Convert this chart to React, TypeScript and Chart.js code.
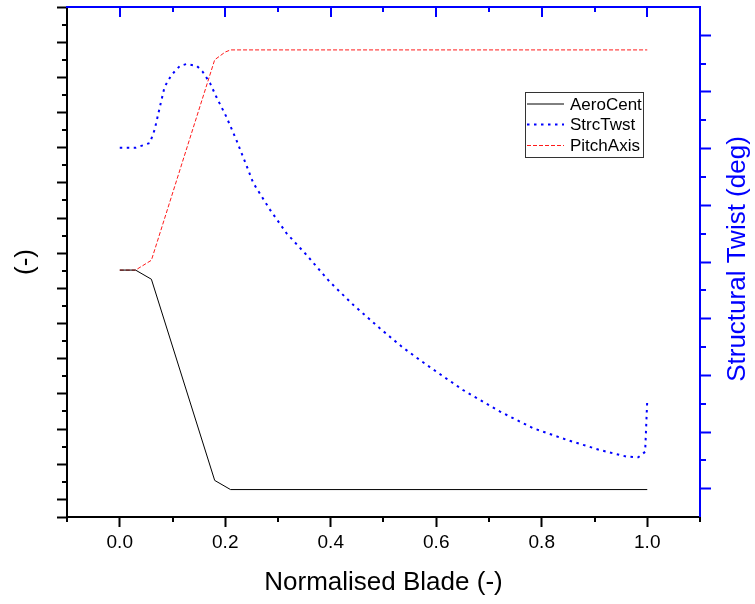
import React, { useEffect, useRef } from 'react';
import { Chart, registerables } from 'chart.js';

Chart.register(...registerables);

// ---- data ----
const seriesNames = ['AeroCent', 'StrcTwst', 'PitchAxis'];

const aeroX = [0, 0.03, 0.06, 0.18, 0.21, 1.0];
const aeroY = [0.326, 0.326, 0.313, 0.027, 0.014, 0.014];

const pitchX = [0, 0.03, 0.06, 0.18, 0.2, 0.21, 1.0];
const pitchY = [0.326, 0.326, 0.34, 0.625, 0.636, 0.639, 0.639];

const twistX = [
  0, 0.03, 0.057, 0.066, 0.076, 0.085, 0.098, 0.114, 0.127, 0.146, 0.157, 0.171,
  0.183, 0.202, 0.221, 0.24, 0.253, 0.285, 0.316, 0.354, 0.398, 0.443, 0.493,
  0.536, 0.569, 0.594, 0.651, 0.721, 0.784, 0.848, 0.911, 0.961, 0.983, 0.996, 1.0,
];
const twistY = [
  12.03, 12.03, 12.2, 12.66, 13.47, 14.18, 14.6, 14.92, 14.99, 14.92, 14.72, 14.32,
  13.83, 13.13, 12.31, 11.42, 10.79, 9.84, 9.02, 8.25, 7.3, 6.48, 5.66,
  4.99, 4.54, 4.21, 3.48, 2.72, 2.13, 1.72, 1.36, 1.13, 1.11, 1.3, 3.13,
];

// ---- ticks ----
const xMajorTicks = [0, 0.2, 0.4, 0.6, 0.8, 1.0];
const xMinorTicks = [-0.1, 0.1, 0.3, 0.5, 0.7, 0.9, 1.1];
const leftMajorTicks = [-0.025, 0, 0.05, 0.1, 0.15, 0.2, 0.25, 0.3, 0.35, 0.4, 0.45, 0.5, 0.55, 0.6, 0.65, 0.7];
const leftMinorTicks = [0.025, 0.075, 0.125, 0.175, 0.225, 0.275, 0.325, 0.375, 0.425, 0.475, 0.525, 0.575, 0.625, 0.675];
const rightMajorTicks = [0, 2, 4, 6, 8, 10, 12, 14, 16];
const rightMinorTicks = [1, 3, 5, 7, 9, 11, 13, 15];

const FONT = "'Liberation Sans', Arial, Helvetica, sans-serif";
const BLUE = '#0000ff';

const zip = (xs: number[], ys: number[]) => xs.map((x, i) => ({ x, y: ys[i] }));

const decorPlugin = {
  id: 'decor',
  afterDraw(chart: any) {
    const ctx: CanvasRenderingContext2D = chart.ctx;
    const { left, right, top, bottom } = chart.chartArea;
    const xs = chart.scales.x;
    const yl = chart.scales.y;
    const yr = chart.scales.y2;
    const line = (x1: number, y1: number, x2: number, y2: number) => {
      ctx.beginPath();
      ctx.moveTo(x1, y1);
      ctx.lineTo(x2, y2);
      ctx.stroke();
    };
    ctx.save();
    ctx.setLineDash([]);
    ctx.lineWidth = 2;
    // minor ticks black
    ctx.strokeStyle = '#000';
    for (const v of xMinorTicks) {
      const px = Math.round(xs.getPixelForValue(v));
      line(px, bottom, px, bottom + 5);
    }
    for (const v of leftMinorTicks) {
      const py = Math.round(yl.getPixelForValue(v));
      line(left - 5, py, left, py);
    }
    // top border (blue) with inward ticks
    ctx.strokeStyle = BLUE;
    line(left - 1, top, right + 1, top);
    for (const v of xMajorTicks) {
      const px = Math.round(xs.getPixelForValue(v));
      line(px, top, px, top + 10);
    }
    for (const v of xMinorTicks) {
      if (v < 0 || v > 1) continue;
      const px = Math.round(xs.getPixelForValue(v));
      line(px, top, px, top + 5);
    }
    // right minor ticks
    for (const v of rightMinorTicks) {
      const py = Math.round(yr.getPixelForValue(v));
      line(right, py, right + 6, py);
    }
    // right title
    ctx.save();
    ctx.translate(738, 259);
    ctx.rotate(-Math.PI / 2);
    ctx.fillStyle = BLUE;
    ctx.font = `26px ${FONT}`;
    ctx.textAlign = 'center';
    ctx.textBaseline = 'middle';
    ctx.fillText('Structural Twist (deg)', 0, 0);
    ctx.restore();

    // legend
    const bx = 525.5, by = 92.5, bw = 118, bh = 65;
    ctx.lineWidth = 1;
    ctx.strokeStyle = '#333';
    ctx.fillStyle = '#fff';
    ctx.fillRect(bx, by, bw, bh);
    ctx.strokeRect(bx, by, bw, bh);
    const rowsY = [104, 124.5, 145.5];
    chart.data.datasets.forEach((ds: any, i: number) => {
      ctx.save();
      ctx.strokeStyle = ds.borderColor;
      ctx.lineWidth = ds.borderWidth;
      ctx.setLineDash(ds.borderDash || []);
      line(527, rowsY[i], 564, rowsY[i]);
      ctx.restore();
      ctx.fillStyle = '#000';
      ctx.font = `17px ${FONT}`;
      ctx.textAlign = 'left';
      ctx.textBaseline = 'middle';
      ctx.fillText(ds.label, 570, rowsY[i] + 1);
    });
    ctx.restore();
  },
};

export default function App() {
  const ref = useRef<HTMLCanvasElement | null>(null);
  useEffect(() => {
    if (!ref.current) return;
    const chart = new Chart(ref.current, {
      type: 'line',
      data: {
        datasets: [
          {
            label: seriesNames[0],
            data: zip(aeroX, aeroY),
            yAxisID: 'y',
            borderColor: '#000000',
            borderWidth: 1,
            pointRadius: 0,
            tension: 0,
            fill: false,
          },
          {
            label: seriesNames[1],
            data: zip(twistX, twistY),
            yAxisID: 'y2',
            borderColor: BLUE,
            borderWidth: 2,
            borderDash: [2.5, 4.5],
            pointRadius: 0,
            tension: 0,
            fill: false,
          },
          {
            label: seriesNames[2],
            data: zip(pitchX, pitchY),
            yAxisID: 'y',
            borderColor: '#ff1a1a',
            borderWidth: 1,
            borderDash: [4, 2],
            pointRadius: 0,
            tension: 0,
            fill: false,
          },
        ],
      },
      options: {
        responsive: false,
        animation: false,
        events: [],
        layout: { padding: { top: 7, left: 0, right: 0, bottom: 0 } },
        plugins: { legend: { display: false }, tooltip: { enabled: false }, title: { display: false } },
        scales: {
          x: {
            type: 'linear',
            position: 'bottom',
            min: -0.1,
            max: 1.1,
            afterBuildTicks: (s: any) => {
              s.ticks = xMajorTicks.map((v) => ({ value: v }));
            },
            afterFit: (s: any) => {
              s.height = 87;
            },
            border: { display: true, color: '#000', width: 2 },
            grid: { display: true, drawOnChartArea: false, drawTicks: true, tickLength: 10, tickWidth: 2, tickColor: '#000' },
            ticks: {
              color: '#000',
              font: { family: FONT, size: 19 },
              padding: 4,
              maxRotation: 0,
              autoSkip: false,
              callback: (v: any) => Number(v).toFixed(1),
            },
            title: {
              display: true,
              text: 'Normalised Blade (-)',
              color: '#000',
              font: { family: FONT, size: 26 },
              padding: { top: 0, bottom: 6 },
            },
          },
          y: {
            type: 'linear',
            position: 'left',
            min: -0.025,
            max: 0.7,
            afterBuildTicks: (s: any) => {
              s.ticks = leftMajorTicks.map((v) => ({ value: v }));
            },
            afterFit: (s: any) => {
              s.width = 67;
            },
            border: { display: true, color: '#000', width: 2 },
            grid: { display: true, drawOnChartArea: false, drawTicks: true, tickLength: 10, tickWidth: 2, tickColor: '#000' },
            ticks: { display: false },
            title: {
              display: true,
              text: '(-)',
              color: '#000',
              font: { family: FONT, size: 26 },
              padding: { top: 10, bottom: 0 },
            },
          },
          y2: {
            type: 'linear',
            position: 'right',
            min: -1,
            max: 17,
            afterBuildTicks: (s: any) => {
              s.ticks = rightMajorTicks.map((v) => ({ value: v }));
            },
            afterFit: (s: any) => {
              s.width = 55;
            },
            border: { display: true, color: BLUE, width: 2 },
            grid: { display: true, drawOnChartArea: false, drawTicks: true, tickLength: 11, tickWidth: 2, tickColor: BLUE },
            ticks: { display: false },
            title: { display: false },
          },
        },
      } as any,
      plugins: [decorPlugin],
    });
    return () => chart.destroy();
  }, []);
  return (
    <div style={{ position: 'absolute', left: 0, top: 0, width: 755, height: 604, background: '#fff' }}>
      <canvas ref={ref} width={755} height={604} style={{ display: 'block' }} />
    </div>
  );
}
